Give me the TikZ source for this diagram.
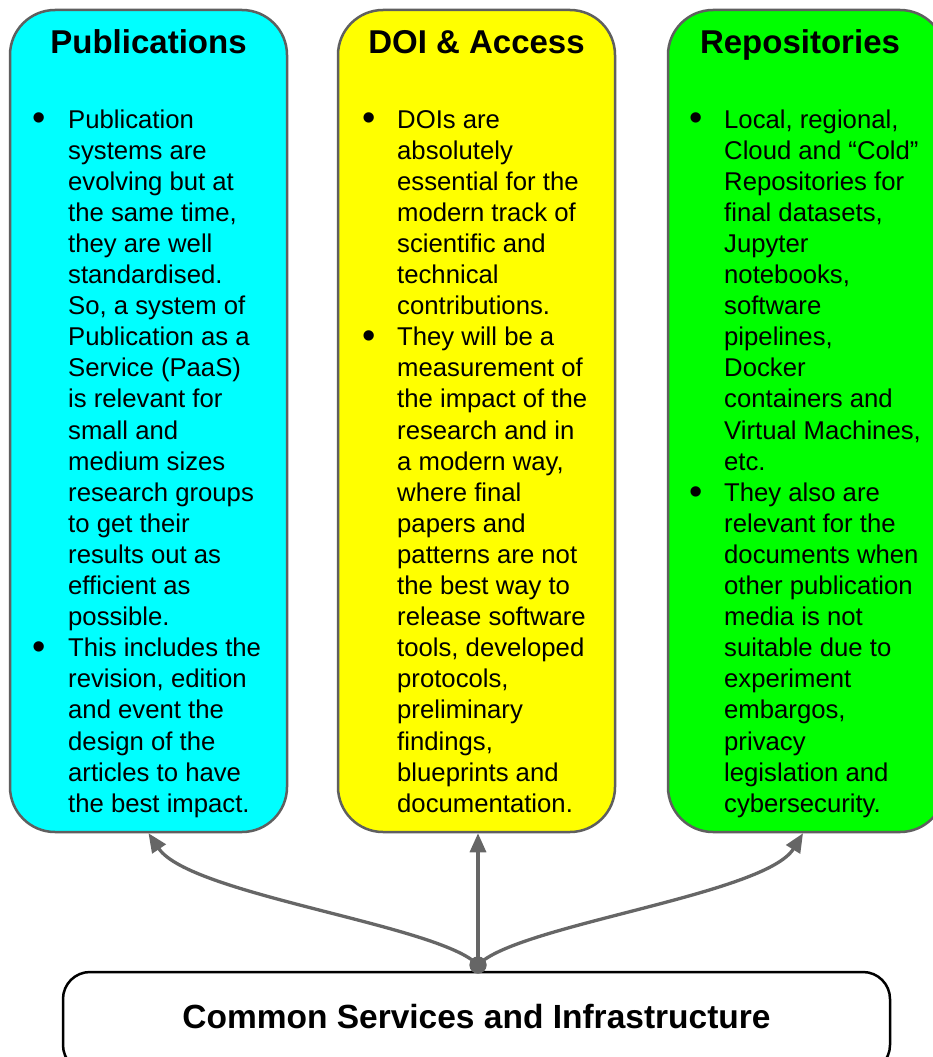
\documentclass[tikz,border=0pt]{standalone}
\usepackage{fontspec}
\setmainfont{Liberation Sans}
\usetikzlibrary{arrows.meta}
\definecolor{pubC}{HTML}{00FFFF}
\definecolor{doiC}{HTML}{FFFF00}
\definecolor{repC}{HTML}{00FF00}
\definecolor{panelgray}{HTML}{5F5F5F}
\definecolor{arrowgray}{HTML}{666666}
\newcommand{\bodybox}[1]{\parbox[t]{262pt}{\fontsize{25.7}{31.1}\selectfont\raggedright #1}}
\tikzset{
  panel/.style={draw=panelgray, line width=2.5pt, rounded corners=45pt,
    minimum width=277pt, minimum height=822pt, inner sep=0pt},
  ttl/.style={anchor=base, inner sep=0pt, font=\fontsize{33}{36}\selectfont\bfseries},
  bodytxt/.style={anchor=base west, inner sep=0pt},
  bul/.style={inner sep=0pt, font=\fontsize{38}{38}\selectfont},
  conn/.style={draw=arrowgray, line width=3.3pt, -{Triangle[length=19pt,width=16pt]}},
  basebox/.style={draw=black, line width=2.5pt, rounded corners=27pt,
    minimum width=827pt, minimum height=100pt, inner sep=0pt,
    text height=24pt, text depth=12pt, font=\fontsize{33.5}{36}\selectfont\bfseries},
  hubdot/.style={circle, fill=arrowgray, minimum size=17pt, inner sep=0pt},
}
\begin{document}
\begin{tikzpicture}[x=1pt,y=-1pt]
\useasboundingbox (0,0) rectangle (933,1057);
\clip (0,0) rectangle (933,1057);
\fill[white] (0,0) rectangle (933,1057);

% panels
\node[panel, fill=pubC] (pub) at (148.5,421) {};
\node[panel, fill=doiC] (doi) at (476.5,421) {};
\node[panel, fill=repC] (rep) at (806.5,421) {};

% titles
\node[ttl] (pubT) at (148.5,54) {Publications};
\node[ttl] (doiT) at (476.5,54) {DOI \& Access};
\node[ttl] (repT) at (800,54) {Repositories};

% bullets
\node[bul] (pubB1) at (39,122) {•};
\node[bul] (pubB2) at (39,650.7) {•};
\node[bul] (doiB1) at (369,122) {•};
\node[bul] (doiB2) at (369,339.7) {•};
\node[bul] (repB1) at (696,122) {•};
\node[bul] (repB2) at (696,495.2) {•};

% bodies
\node[bodytxt] (pubX) at (68,128) {\bodybox{Publication\\
systems are\\
evolving but at\\
the same time,\\
they are well\\
standardised.\\
So, a system of\\
Publication as a\\
Service (PaaS)\\
is relevant for\\
small and\\
medium sizes\\
research groups\\
to get their\\
results out as\\
efficient as\\
possible.\\
This includes the\\
revision, edition\\
and event the\\
design of the\\
articles to have\\
the best impact.}};

\node[bodytxt] (doiX) at (397,128) {\bodybox{DOIs are\\
absolutely\\
essential for the\\
modern track of\\
scientific and\\
technical\\
contributions.\\
They will be a\\
measurement of\\
the impact of the\\
research and in\\
a modern way,\\
where final\\
papers and\\
patterns are not\\
the best way to\\
release software\\
tools, developed\\
protocols,\\
preliminary\\
findings,\\
blueprints and\\
documentation.}};

\node[bodytxt] (repX) at (724,128) {\bodybox{Local, regional,\\
Cloud and “Cold”\\
Repositories for\\
final datasets,\\
Jupyter\\
notebooks,\\
software\\
pipelines,\\
Docker\\
containers and\\
Virtual Machines,\\
etc.\\
They also are\\
relevant for the\\
documents when\\
other publication\\
media is not\\
suitable due to\\
experiment\\
embargos,\\
privacy\\
legislation and\\
cybersecurity.}};

% base box
\node[basebox] (csi) at (476.5,1022) {Common Services and Infrastructure};

% hub and connectors
\node[hubdot] (hub) at (478,965) {};
\draw[conn] (hub.center) .. controls (440,925) and (190,895) .. (pub.south);
\draw[conn] (hub.center) -- (hub.center |- doi.south);
\draw[conn] (hub.center) .. controls (516,925) and (765,895) .. ([xshift=-3.5pt]rep.south);
\node[hubdot] (hubtop) at (hub) {};
\end{tikzpicture}
\end{document}
